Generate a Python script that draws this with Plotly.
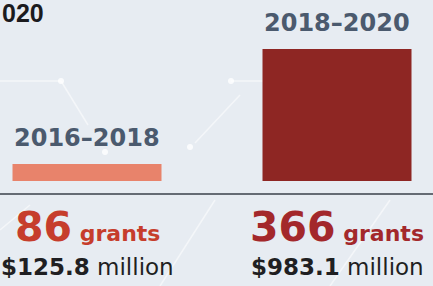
import plotly.graph_objects as go

W, H = 433, 286

periods = ["2016–2018", "2018–2020"]
funding_millions = [125.8, 983.1]
grant_counts = [86, 366]
funding_labels = ["$125.8", "$983.1"]
title_fragment = "020"

bar_colors = ["#e8836b", "#8e2623"]
count_colors = ["#c63d2c", "#a3282b"]
label_color = "#4b5a6e"
bg = "#e7ecf2"

def py(p):
    return 1 - p / H

fig = go.Figure()
fig.add_trace(go.Bar(
    x=periods, y=funding_millions,
    marker=dict(color=bar_colors, line=dict(width=0)),
    width=0.596, hoverinfo="skip",
))

ann = []
# title fragment
ann.append(dict(xref="paper", yref="paper", x=0, y=py(13), xanchor="left", yanchor="middle",
                text="<b>" + title_fragment + "</b>", showarrow=False,
                font=dict(family="Liberation Sans", size=25, color="#1b1b1e")))
for i, p in enumerate(periods):
    ann.append(dict(xref="x", yref="y", x=p, y=funding_millions[i], xanchor="center", yanchor="bottom",
                    yshift=10, text="<b>" + p + "</b>", showarrow=False,
                    font=dict(family="DejaVu Sans", size=24, color=label_color)))
    ann.append(dict(xref="x", yref="paper", x=p, y=py(227), xanchor="center", yanchor="middle",
                    text="<b>%d</b><span style='font-size:22px'><b> grants</b></span>" % grant_counts[i],
                    showarrow=False,
                    font=dict(family="DejaVu Sans", size=41, color=count_colors[i])))
    ann.append(dict(xref="x", yref="paper", x=p, y=py(267), xanchor="center", yanchor="middle",
                    text="<b>" + funding_labels[i] + "</b> million", showarrow=False,
                    font=dict(family="DejaVu Sans", size=23, color="#1f1f22")))

shapes = []
deco = "rgba(255,255,255,0.55)"
for (x0, y0, x1, y1) in [(0, 81, 61, 81), (61, 81, 88, 125), (231, 81, 263, 81),
                         (195, 143, 240, 95), (160, 286, 215, 200), (330, 286, 390, 200),
                         (0, 230, 30, 205)]:
    shapes.append(dict(type="line", xref="paper", yref="paper", x0=x0 / W, x1=x1 / W,
                       y0=py(y0), y1=py(y1), line=dict(color=deco, width=1.5), layer="below"))
for (cx, cy) in [(61, 81), (231, 81), (105, 152), (190, 147)]:
    shapes.append(dict(type="circle", xref="paper", yref="paper", x0=(cx - 3) / W, x1=(cx + 3) / W,
                       y0=py(cy + 3), y1=py(cy - 3), fillcolor="rgba(255,255,255,0.8)",
                       line=dict(width=0), layer="below"))
shapes.append(dict(type="line", xref="paper", yref="paper", x0=0, x1=1, y0=py(194), y1=py(194),
                   line=dict(color="#656b74", width=2)))

scale = 132 / 983.1
fig.update_layout(
    width=W, height=H, margin=dict(l=0, r=0, t=0, b=0),
    paper_bgcolor=bg, plot_bgcolor=bg, showlegend=False,
    xaxis=dict(range=[-0.348, 1.384], visible=False, fixedrange=True),
    yaxis=dict(range=[-(H - 181) / scale, 181 / scale], visible=False, fixedrange=True),
    annotations=ann, shapes=shapes,
)
fig.write_html("out.html", config={"displayModeBar": False},
               post_script="document.body.style.margin='0';document.body.style.overflow='hidden';")
